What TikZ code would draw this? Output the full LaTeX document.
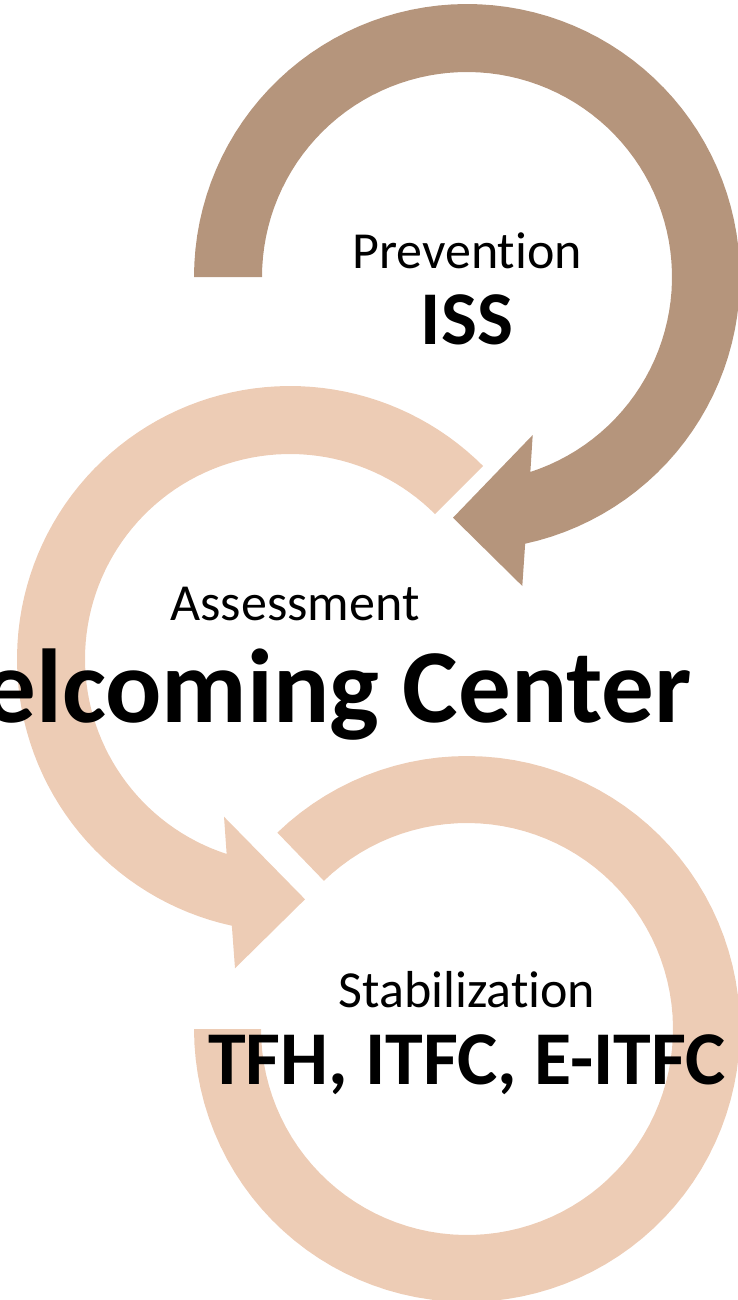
\documentclass[tikz,border=0pt]{standalone}
\usepackage{fontspec}
\setmainfont{Carlito}[Ligatures={NoCommon}]
\definecolor{darkarc}{RGB}{181,149,124}
\definecolor{lightarc}{RGB}{237,204,181}
\tikzset{
  steplabel/.style={anchor=base, inner sep=0pt, font=\fontsize{52}{60}\selectfont},
  stepname/.style={anchor=base, inner sep=0pt, font=\bfseries\fontsize{76}{86}\selectfont},
}
\begin{document}
\begin{tikzpicture}[x=1pt,y=-1pt]
\useasboundingbox (0,0) rectangle (738,1300);
\clip (0,0) rectangle (738,1300);
% top arrow (Prevention)
\fill[darkarc]
  plot[domain=180:437.7,samples=90] ({467+273*cos(\x)},{277+273*sin(\x)})
  -- (522.3,586) -- (453,517.7) -- (532.7,435)
  -- plot[domain=432:180,samples=90] ({467+205*cos(\x)},{277+205*sin(\x)})
  -- cycle;
% middle arrow (Assessment)
\fill[lightarc]
  plot[domain=-45:-257.7,samples=90] ({290+273*cos(\x)},{659+273*sin(\x)})
  -- (235,968.3) -- (305,899.3) -- (224,816.7)
  -- plot[domain=-252:-45,samples=90] ({290+205*cos(\x)},{659+205*sin(\x)})
  -- cycle;
% bottom arc (Stabilization)
\fill[lightarc]
  plot[domain=226:540,samples=100] ({467+273*cos(\x)},{1029+273*sin(\x)})
  -- plot[domain=540:226,samples=100] ({467+206*cos(\x)},{1029+206*sin(\x)})
  -- cycle;
% texts
\node[steplabel] (prev) at (467,268) {Prevention};
\node[stepname] (iss) at (467,344) {ISS};
\node[steplabel] (assess) at (295,620) {Assessment};
\node[anchor=base, inner sep=0pt, font=\bfseries\fontsize{105}{115}\selectfont] (wc) at (292,722) {Welcoming Center};
\node[steplabel] (stab) at (467,1007) {Stabilization};
\node[stepname] (tfh) at (467,1084) {TFH, ITFC, E-ITFC};
\end{tikzpicture}
\end{document}
